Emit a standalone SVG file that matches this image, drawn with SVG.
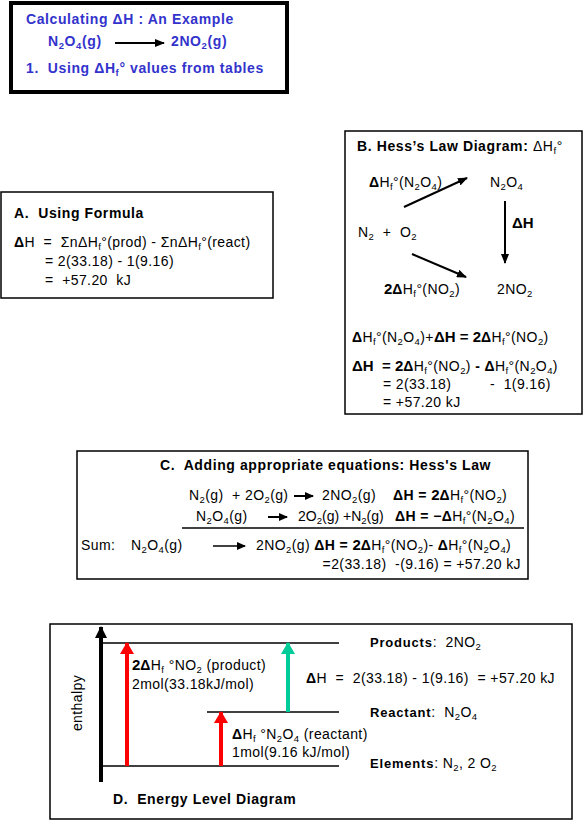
<svg xmlns="http://www.w3.org/2000/svg" width="586" height="821" viewBox="0 0 586 821">
<style>
text{font-family:"Liberation Sans",Arial,sans-serif;font-size:14px;letter-spacing:0.4px;fill:#000}
.t{font-weight:bold;font-size:14px;fill:#3333cc;letter-spacing:0.6px}
.h{font-weight:bold;font-size:14px;letter-spacing:0.6px}
.b{font-weight:bold}
.lb{font-weight:bold;font-size:13px;letter-spacing:0.8px}
.big{font-weight:bold;font-size:15px;letter-spacing:0}
.s{font-size:9.5px;baseline-shift:-3px}
.tight{letter-spacing:0}
.box{fill:#fff;stroke:#000;stroke-width:1.5}
.ln{stroke:#000;stroke-width:1.5;fill:none}
.ar{stroke:#000;stroke-width:2;fill:none}
</style>
<defs>
<marker id="ah" markerWidth="10" markerHeight="8" refX="9" refY="4" orient="auto" markerUnits="userSpaceOnUse"><path d="M0,0 L10,4 L0,8 Z" fill="#000"/></marker>
<marker id="ahs" markerWidth="9" markerHeight="8" refX="8" refY="4" orient="auto" markerUnits="userSpaceOnUse"><path d="M0,0 L9,4 L0,8 Z" fill="#000"/></marker>
<marker id="ahr" markerWidth="12" markerHeight="14" refX="11" refY="7" orient="auto" markerUnits="userSpaceOnUse"><path d="M0,0 L12,7 L0,14 Z" fill="#ff0000"/></marker>
<marker id="ahg" markerWidth="12" markerHeight="14" refX="11" refY="7" orient="auto" markerUnits="userSpaceOnUse"><path d="M0,0 L12,7 L0,14 Z" fill="#00cc99"/></marker>
<marker id="ahk" markerWidth="12" markerHeight="12" refX="11" refY="6" orient="auto" markerUnits="userSpaceOnUse"><path d="M0,0 L12,6 L0,12 Z" fill="#000"/></marker>
</defs>
<rect width="586" height="821" fill="#fff"/>

<g id="title">
<rect x="11" y="3" width="276" height="89" fill="#fff" stroke="#000" stroke-width="4"/>
<text x="26" y="24" class="t" xml:space="preserve">Calculating ΔH : An Example</text>
<text x="48" y="46" class="t">N<tspan class="s">2</tspan>O<tspan class="s">4</tspan>(g)</text>
<text x="171" y="46" class="t">2NO<tspan class="s">2</tspan>(g)</text>
<text x="26" y="73" class="t" xml:space="preserve">1.  Using ΔH<tspan class="s">f</tspan>° values from tables</text>
</g>

<g id="boxA">
<rect x="1" y="192" width="272" height="106" class="box"/>
<text x="14" y="218" class="h" xml:space="preserve">A.  Using Formula</text>
<text x="14" y="247" xml:space="preserve"><tspan class="b">Δ</tspan>H  =  ΣnΔH<tspan class="s">f</tspan>°(prod) - ΣnΔH<tspan class="s">f</tspan>°(react)</text>
<text x="45" y="266" xml:space="preserve">= 2(33.18) - 1(9.16)</text>
<text x="45" y="285" xml:space="preserve">=  +57.20  kJ</text>
</g>

<g id="boxB">
<rect x="345" y="131" width="237" height="283" class="box"/>
<text x="357" y="151" class="h" xml:space="preserve">B. Hess’s Law Diagram: <tspan font-weight="normal">ΔH</tspan><tspan class="s" font-weight="normal">f</tspan><tspan font-weight="normal">°</tspan></text>
<text x="369" y="187"><tspan class="b">Δ</tspan>H<tspan class="s">f</tspan>°(N<tspan class="s">2</tspan>O<tspan class="s">4</tspan>)</text>
<text x="490" y="187">N<tspan class="s">2</tspan>O<tspan class="s">4</tspan></text>
<text x="358" y="237" xml:space="preserve">N<tspan class="s">2</tspan>  +  O<tspan class="s">2</tspan></text>
<text x="512" y="228" class="big">ΔH</text>
<text x="384" y="294"><tspan class="big">2</tspan><tspan class="b">Δ</tspan>H<tspan class="s">f</tspan>°(NO<tspan class="s">2</tspan>)</text>
<text x="497" y="294">2NO<tspan class="s">2</tspan></text>
<text x="352" y="342" xml:space="preserve"><tspan class="b">Δ</tspan>H<tspan class="s">f</tspan>°(N<tspan class="s">2</tspan>O<tspan class="s">4</tspan>)+<tspan class="big">ΔH = 2</tspan><tspan class="b">Δ</tspan>H<tspan class="s">f</tspan>°(NO<tspan class="s">2</tspan>)</text>
<text x="352" y="371" xml:space="preserve"><tspan class="big">ΔH  = 2</tspan><tspan class="b">Δ</tspan>H<tspan class="s">f</tspan>°(NO<tspan class="s">2</tspan>) <tspan class="b">- Δ</tspan>H<tspan class="s">f</tspan>°(N<tspan class="s">2</tspan>O<tspan class="s">4</tspan>)</text>
<text x="383" y="389" xml:space="preserve">= 2(33.18)</text>
<text x="490" y="389" xml:space="preserve">-  1(9.16)</text>
<text x="383" y="407" xml:space="preserve">= +57.20 kJ</text>
</g>

<g id="boxC">
<rect x="77" y="451" width="451" height="128" class="box"/>
<text x="160" y="470" class="h" xml:space="preserve">C.  Adding appropriate equations: Hess's Law</text>
<text x="189" y="500" xml:space="preserve">N<tspan class="s">2</tspan>(g)  + 2O<tspan class="s">2</tspan>(g)</text>
<text x="322" y="500">2NO<tspan class="s">2</tspan>(g)</text>
<text x="393" y="500" xml:space="preserve"><tspan class="b">ΔH = </tspan><tspan class="big">2</tspan><tspan class="b">Δ</tspan>H<tspan class="s">f</tspan>°(NO<tspan class="s">2</tspan>)</text>
<text x="196" y="521">N<tspan class="s">2</tspan>O<tspan class="s">4</tspan>(g)</text>
<text x="298" y="521" class="tight" xml:space="preserve">2O<tspan class="s">2</tspan>(g) +N<tspan class="s">2</tspan>(g)</text>
<text x="395" y="521" xml:space="preserve"><tspan class="b">ΔH = −Δ</tspan>H<tspan class="s">f</tspan>°(N<tspan class="s">2</tspan>O<tspan class="s">4</tspan>)</text>
<line x1="182" y1="528" x2="524" y2="528" class="ln" stroke-width="1"/>
<text x="81" y="550" xml:space="preserve">Sum:</text>
<text x="131" y="550">N<tspan class="s">2</tspan>O<tspan class="s">4</tspan>(g)</text>
<text x="256" y="550" xml:space="preserve">2NO<tspan class="s">2</tspan>(g) <tspan class="b">ΔH = </tspan><tspan class="big">2</tspan><tspan class="b">Δ</tspan>H<tspan class="s">f</tspan>°(NO<tspan class="s">2</tspan>)- <tspan class="b">Δ</tspan>H<tspan class="s">f</tspan>°(N<tspan class="s">2</tspan>O<tspan class="s">4</tspan>)</text>
<text x="521" y="569" text-anchor="end" xml:space="preserve">=2(33.18)  -(9.16) = +57.20 kJ</text>
</g>

<g id="boxD">
<rect x="50" y="624" width="522" height="195" class="box"/>
<line x1="102" y1="643" x2="339" y2="643" class="ln" stroke-width="1.2"/>
<line x1="207" y1="712" x2="339" y2="712" class="ln" stroke-width="1.2"/>
<line x1="102" y1="766" x2="339" y2="766" class="ln" stroke-width="1.2"/>
<text transform="translate(82,703) rotate(-90)" text-anchor="middle">enthalpy</text>
<text x="132" y="670"><tspan class="big">2</tspan><tspan class="b">Δ</tspan>H<tspan class="s">f</tspan> °NO<tspan class="s">2</tspan> (product)</text>
<text x="132" y="689">2mol(33.18kJ/mol)</text>
<text x="232" y="739"><tspan class="b">Δ</tspan>H<tspan class="s">f</tspan> °N<tspan class="s">2</tspan>O<tspan class="s">4</tspan> (reactant)</text>
<text x="232" y="757">1mol(9.16 kJ/mol)</text>
<text x="370" y="647" xml:space="preserve"><tspan class="lb">Products</tspan>:  2NO<tspan class="s">2</tspan></text>
<text x="306" y="683" xml:space="preserve"><tspan class="b">Δ</tspan>H  =  2(33.18) - 1(9.16)  = +57.20 kJ</text>
<text x="370" y="717" xml:space="preserve"><tspan class="lb">Reactant</tspan>:  N<tspan class="s">2</tspan>O<tspan class="s">4</tspan></text>
<text x="370" y="768" xml:space="preserve"><tspan class="lb">Elements</tspan>: N<tspan class="s">2</tspan>, 2 O<tspan class="s">2</tspan></text>
<text x="113" y="804" class="h" xml:space="preserve">D.  Energy Level Diagram</text>
</g>

<g id="connectors">
<line x1="115" y1="43" x2="164" y2="43" class="ar" marker-end="url(#ah)"/>
<line x1="404" y1="207" x2="467" y2="178" class="ar" marker-end="url(#ah)"/>
<line x1="505" y1="201" x2="505" y2="263" class="ar" marker-end="url(#ah)"/>
<line x1="412" y1="254" x2="466" y2="277" class="ar" marker-end="url(#ah)"/>
<line x1="294" y1="496" x2="313" y2="496" class="ar" marker-end="url(#ahs)"/>
<line x1="268" y1="517" x2="287" y2="517" class="ar" marker-end="url(#ahs)"/>
<line x1="213" y1="546" x2="245" y2="546" class="ln" stroke-width="1.2" marker-end="url(#ahs)"/>
<line x1="101" y1="782" x2="101" y2="627" stroke="#000" stroke-width="4" marker-end="url(#ahk)"/>
<line x1="127" y1="766" x2="127" y2="643" stroke="#ff0000" stroke-width="4" marker-end="url(#ahr)"/>
<line x1="221" y1="766" x2="221" y2="712" stroke="#ff0000" stroke-width="4" marker-end="url(#ahr)"/>
<line x1="288" y1="712" x2="288" y2="643" stroke="#00cc99" stroke-width="4" marker-end="url(#ahg)"/>
</g>
</svg>
